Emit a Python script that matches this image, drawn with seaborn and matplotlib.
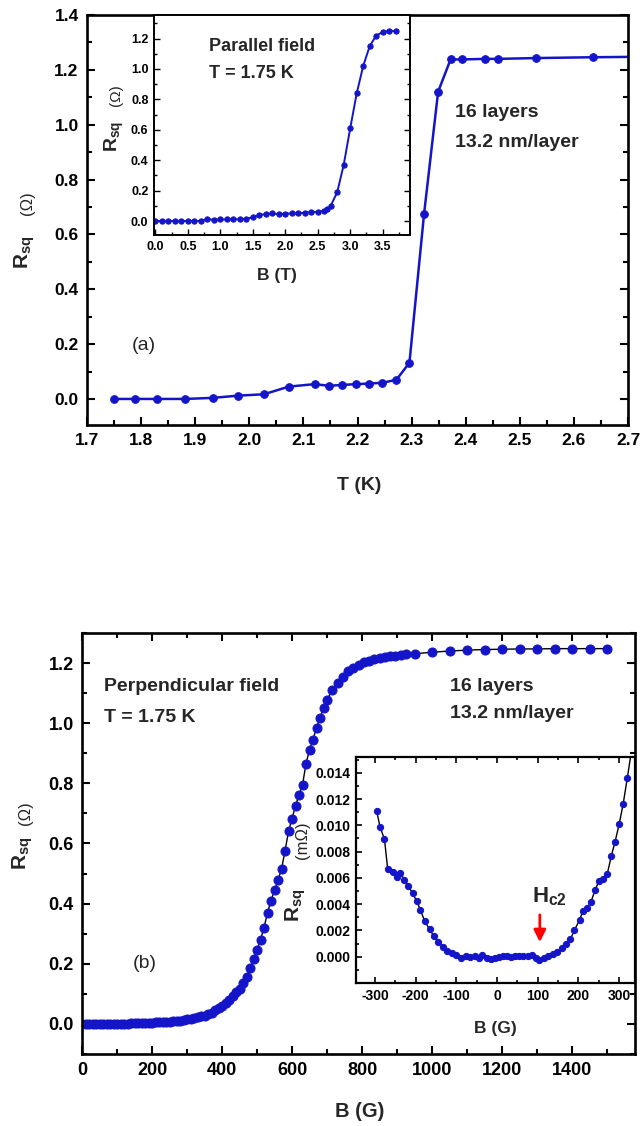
import matplotlib
matplotlib.use("Agg")
import matplotlib.pyplot as plt
from matplotlib.ticker import MultipleLocator, FixedLocator, FormatStrFormatter
import pandas as pd
import seaborn as sns

# ---------------- data ----------------
# (a) sheet resistance vs temperature
temp_K = [1.75, 1.788, 1.83, 1.882, 1.933, 1.979, 2.027, 2.073, 2.121, 2.147,
          2.171, 2.197, 2.221, 2.246, 2.272, 2.296, 2.323, 2.349, 2.372, 2.394,
          2.435, 2.46, 2.53, 2.636, 2.74]
rsq_temp = [0.0, 0.0, 0.0, 0.0, 0.004, 0.012, 0.017, 0.045, 0.054, 0.048,
            0.051, 0.054, 0.056, 0.059, 0.07, 0.132, 0.674, 1.12, 1.238, 1.238,
            1.24, 1.24, 1.243, 1.246, 1.248]

# (a) inset: parallel field sweep at T = 1.75 K
b_par_T = [0.0, 0.1, 0.2, 0.3, 0.4, 0.5, 0.6, 0.7, 0.8, 0.9, 1.0, 1.1, 1.2, 1.3,
           1.4, 1.5, 1.6, 1.7, 1.8, 1.9, 2.0, 2.1, 2.2, 2.3, 2.4, 2.5, 2.6, 2.65,
           2.7, 2.8, 2.9, 3.0, 3.1, 3.2, 3.3, 3.4, 3.5, 3.6, 3.7]
rsq_par = [0, 0, 0, 0, 0, 0, 0, 0, 0.012, 0.008, 0.01, 0.01, 0.012, 0.01,
           0.015, 0.025, 0.04, 0.045, 0.05, 0.045, 0.048, 0.05, 0.05, 0.055,
           0.058, 0.06, 0.068, 0.08, 0.10, 0.19, 0.37, 0.61, 0.84, 1.02, 1.15,
           1.22, 1.243, 1.25, 1.25]

# (b) perpendicular field sweep at T = 1.75 K
b_perp_G = [0, 10, 20, 30, 40, 50, 60, 70, 80, 90, 100, 110, 120, 130, 140, 150,
            160, 170, 180, 190, 200, 210, 220, 230, 240, 250, 260, 270, 280, 290,
            300, 310, 320, 330, 340, 350, 360, 370, 380, 390, 400, 410, 420, 430,
            440, 450, 460, 470, 480, 490, 500, 510, 520, 530, 540, 550, 560, 570,
            580, 590, 600, 610, 620, 630, 640, 650, 660, 670, 680, 690, 700,
            715, 730, 745, 760, 775, 790, 805, 820, 835, 850, 865, 880, 895, 910,
            925, 950, 1000, 1050, 1100, 1150, 1200, 1250, 1300, 1350, 1400, 1450,
            1500]
rsq_perp = [0.0, 0.0, 0.0, 0.0, 0.0, 0.0, 0.0, 0.0, 0.0, 0.001, 0.001, 0.001,
            0.001, 0.001, 0.002, 0.002, 0.002, 0.003, 0.003, 0.004, 0.004, 0.005,
            0.005, 0.006, 0.007, 0.008, 0.009, 0.010, 0.011, 0.013, 0.015, 0.017,
            0.019, 0.022, 0.025, 0.028, 0.033, 0.038, 0.045, 0.052, 0.060, 0.070,
            0.080, 0.092, 0.105, 0.117, 0.137, 0.157, 0.185, 0.215, 0.245, 0.280,
            0.320, 0.370, 0.410, 0.444, 0.478, 0.515, 0.575, 0.640, 0.683, 0.725,
            0.762, 0.795, 0.865, 0.912, 0.945, 0.985, 1.018, 1.050, 1.078,
            1.110, 1.135, 1.155, 1.172, 1.185, 1.194, 1.202, 1.208, 1.213, 1.217,
            1.220, 1.222, 1.225, 1.228, 1.230, 1.231, 1.236, 1.240, 1.243, 1.245,
            1.246, 1.247, 1.247, 1.248, 1.248, 1.248, 1.248]

# (b) inset: low-field detail around zero resistance
b_low_G = [-296, -288, -277, -269, -257, -247, -238, -228, -218, -208, -198, -189,
           -178, -166, -156, -145, -133, -123, -110, -100, -89, -77, -67, -55,
           -44, -36, -26, -16, -6, 4, 14, 24, 34, 44, 54, 64, 75, 85, 95, 103,
           115, 126, 137, 148, 160, 170, 180, 190, 203, 211, 221, 231, 241, 250,
           261, 271, 281, 290, 300, 310, 320, 332]
rsq_low = [0.01108, 0.00988, 0.00895, 0.00665, 0.00645, 0.00603, 0.0064, 0.00583,
           0.00538, 0.00483, 0.00425, 0.00358, 0.0027, 0.00208, 0.00158, 0.00115,
           0.00075, 0.0004, 0.00025, 0.0001, -0.00012, 0.00005, -0.00005, 0.00003,
           -0.00008, 0.00013, -0.00008, -0.00018, -0.00008, 0.0, 0.00008, 0.00005,
           0.0, 0.00003, 0.00005, 0.00008, 0.00003, 0.0001, -0.00008, -0.00022,
           -0.00008, 0.00005, 0.00018, 0.00033, 0.00063, 0.00095, 0.00133, 0.002,
           0.00283, 0.00348, 0.0037, 0.0042, 0.00508, 0.00575, 0.00595, 0.00633,
           0.0077, 0.00875, 0.01008, 0.01165, 0.01358, 0.0160]
low_yticks = [0.0, 0.002, 0.004, 0.006, 0.008, 0.010, 0.012, 0.014]
hc2_G = 105

# ---------------- style ----------------
sns.set_style("ticks")
plt.rcParams.update({
    "font.family": ["Liberation Sans", "DejaVu Sans"],
    "font.weight": "bold",
    "axes.labelweight": "bold",
    "axes.unicode_minus": False,
    "mathtext.fontset": "custom",
    "mathtext.rm": "Liberation Sans",
    "mathtext.bf": "Liberation Sans:bold",
    "mathtext.it": "Liberation Sans:italic",
    "axes.edgecolor": "black",
    "xtick.color": "black",
    "ytick.color": "black",
})

BLUE = "#1414c8"
W, H = 640, 1126
fig = plt.figure(figsize=(W / 100, H / 100), dpi=100)


def px_axes(left, top, right, bottom, z=1):
    return fig.add_axes([left / W, 1 - bottom / H, (right - left) / W, (bottom - top) / H], zorder=z)


def style(ax, major, minor, width, spine, size, top=False, right=False):
    ax.tick_params(which="both", direction="in", width=width, top=top, right=right,
                   labelsize=size, pad=6)
    ax.tick_params(which="major", length=major)
    ax.tick_params(which="minor", length=minor)
    for s in ax.spines.values():
        s.set_linewidth(spine)
        s.set_color("black")
        s.set_visible(True)


def rsq_label(ax, x, y_r, x_unit, y_unit, unit, size_r, size_u):
    """Rotated R_sq label with a smaller unit placed above it."""
    ax.text(x, y_r, r"$\mathbf{R_{sq}}$", transform=ax.transAxes, rotation=90,
            ha="center", va="center", fontsize=size_r)
    ax.text(x_unit, y_unit, unit, transform=ax.transAxes, rotation=90,
            ha="center", va="center", fontsize=size_u, fontweight="normal")


# ---------------- (a) temperature ----------------
ax_a = px_axes(87, 15, 628, 425)
sns.lineplot(data=pd.DataFrame({"T": temp_K, "R": rsq_temp}), x="T", y="R", ax=ax_a,
             color=BLUE, linewidth=1.8, marker="o", markersize=5.5,
             markeredgecolor=BLUE, sort=False, estimator=None)
ax_a.set_xlim(1.7, 2.7)
ax_a.set_ylim(-0.095, 1.4)
ax_a.xaxis.set_major_locator(MultipleLocator(0.1))
ax_a.xaxis.set_minor_locator(MultipleLocator(0.05))
ax_a.yaxis.set_major_locator(MultipleLocator(0.2))
ax_a.yaxis.set_minor_locator(MultipleLocator(0.1))
ax_a.xaxis.set_major_formatter(FormatStrFormatter("%.1f"))
ax_a.yaxis.set_major_formatter(FormatStrFormatter("%.1f"))
style(ax_a, 6, 3.5, 1.5, 1.9, 12.5, right=True)
ax_a.set_xlabel("T (K)", fontsize=14)
ax_a.set_ylabel("")
ax_a.xaxis.set_label_coords(0.503, -0.127)
rsq_label(ax_a, -0.115, 0.42, -0.11, 0.54, "(Ω)", 15, 12)
ax_a.text(0.68, 0.761, "16 layers", transform=ax_a.transAxes, fontsize=14, va="center")
ax_a.text(0.68, 0.69, "13.2 nm/layer", transform=ax_a.transAxes, fontsize=14, va="center")
ax_a.text(0.083, 0.195, "(a)", transform=ax_a.transAxes, fontsize=14,
          fontweight="normal", va="center")

# (a) inset: parallel field
ax_ai = px_axes(154, 15, 410, 235, z=3)
ax_ai.set_facecolor("white")
sns.lineplot(data=pd.DataFrame({"B": b_par_T, "R": rsq_par}), x="B", y="R", ax=ax_ai,
             color=BLUE, linewidth=1.4, marker="o", markersize=3.8,
             markeredgecolor=BLUE, sort=False, estimator=None)
ax_ai.set_xlim(-0.02, 3.92)
ax_ai.set_ylim(-0.092, 1.355)
ax_ai.xaxis.set_major_locator(MultipleLocator(0.5))
ax_ai.xaxis.set_minor_locator(MultipleLocator(0.25))
ax_ai.yaxis.set_major_locator(MultipleLocator(0.2))
ax_ai.yaxis.set_minor_locator(MultipleLocator(0.1))
ax_ai.xaxis.set_major_formatter(FormatStrFormatter("%.1f"))
ax_ai.yaxis.set_major_formatter(FormatStrFormatter("%.1f"))
style(ax_ai, 4, 2, 1.0, 1.4, 9, right=True)
ax_ai.tick_params(which="both", pad=4)
ax_ai.set_xlabel("B (T)", fontsize=12.5)
ax_ai.set_ylabel("")
ax_ai.xaxis.set_label_coords(0.48, -0.15)
rsq_label(ax_ai, -0.156, 0.45, -0.148, 0.635, "(Ω)", 14, 11)
ax_ai.text(0.215, 0.855, "Parallel field", transform=ax_ai.transAxes, fontsize=13, va="center")
ax_ai.text(0.215, 0.736, "T = 1.75 K", transform=ax_ai.transAxes, fontsize=13, va="center")

# ---------------- (b) perpendicular field ----------------
ax_b = px_axes(82, 633, 635, 1054)
sns.lineplot(data=pd.DataFrame({"B": b_perp_G, "R": rsq_perp}), x="B", y="R", ax=ax_b,
             color="black", linewidth=1.0, marker="o", markersize=6.5,
             markerfacecolor=BLUE, markeredgecolor=BLUE, sort=False, estimator=None)
ax_b.set_xlim(0, 1580)
ax_b.set_ylim(-0.1, 1.3)
ax_b.xaxis.set_major_locator(MultipleLocator(200))
ax_b.xaxis.set_minor_locator(MultipleLocator(100))
ax_b.yaxis.set_major_locator(MultipleLocator(0.2))
ax_b.yaxis.set_minor_locator(MultipleLocator(0.1))
ax_b.yaxis.set_major_formatter(FormatStrFormatter("%.1f"))
style(ax_b, 6, 3.5, 1.5, 1.9, 13, top=True, right=True)
ax_b.set_xlabel("B (G)", fontsize=14.5)
ax_b.set_ylabel("")
ax_b.xaxis.set_label_coords(0.503, -0.114)
rsq_label(ax_b, -0.107, 0.477, -0.102, 0.572, "(Ω)", 15, 12)
ax_b.text(0.04, 0.872, "Perpendicular field", transform=ax_b.transAxes, fontsize=14, va="center")
ax_b.text(0.04, 0.80, "T = 1.75 K", transform=ax_b.transAxes, fontsize=14, va="center")
ax_b.text(0.666, 0.874, "16 layers", transform=ax_b.transAxes, fontsize=14, va="center")
ax_b.text(0.666, 0.808, "13.2 nm/layer", transform=ax_b.transAxes, fontsize=14, va="center")
ax_b.text(0.091, 0.216, "(b)", transform=ax_b.transAxes, fontsize=14,
          fontweight="normal", va="center")

# (b) inset: low-field region with Hc2 marker
ax_bi = px_axes(356, 757, 635, 983, z=3)
ax_bi.set_facecolor("white")
sns.lineplot(data=pd.DataFrame({"B": b_low_G, "R": rsq_low}), x="B", y="R", ax=ax_bi,
             color="black", linewidth=1.0, marker="o", markersize=4.5,
             markerfacecolor=BLUE, markeredgecolor=BLUE, sort=False, estimator=None)
ax_bi.set_xlim(-347, 339)
ax_bi.set_ylim(-0.002, 0.0152)
ax_bi.xaxis.set_major_locator(MultipleLocator(100))
ax_bi.xaxis.set_minor_locator(MultipleLocator(50))
ax_bi.yaxis.set_major_locator(FixedLocator(low_yticks))
ax_bi.yaxis.set_minor_locator(MultipleLocator(0.001))
ax_bi.yaxis.set_major_formatter(FormatStrFormatter("%.3f"))
style(ax_bi, 4.5, 2.5, 1.2, 1.6, 10, top=True)
ax_bi.tick_params(which="both", pad=4)
ax_bi.set_xlabel("B (G)", fontsize=12.5)
ax_bi.set_ylabel("")
ax_bi.xaxis.set_label_coords(0.50, -0.168)
rsq_label(ax_bi, -0.215, 0.345, -0.19, 0.63, "(mΩ)", 15, 12)
ax_bi.annotate("", xy=(hc2_G, 0.0009), xytext=(hc2_G, 0.0034),
               arrowprops=dict(arrowstyle="-|>", color="red", lw=2.0, mutation_scale=18))
ax_bi.text(86, 0.0037, r"$\mathbf{H_{c2}}$", fontsize=16, va="bottom", ha="left")

fig.savefig("out.png", dpi=100, facecolor="white")
